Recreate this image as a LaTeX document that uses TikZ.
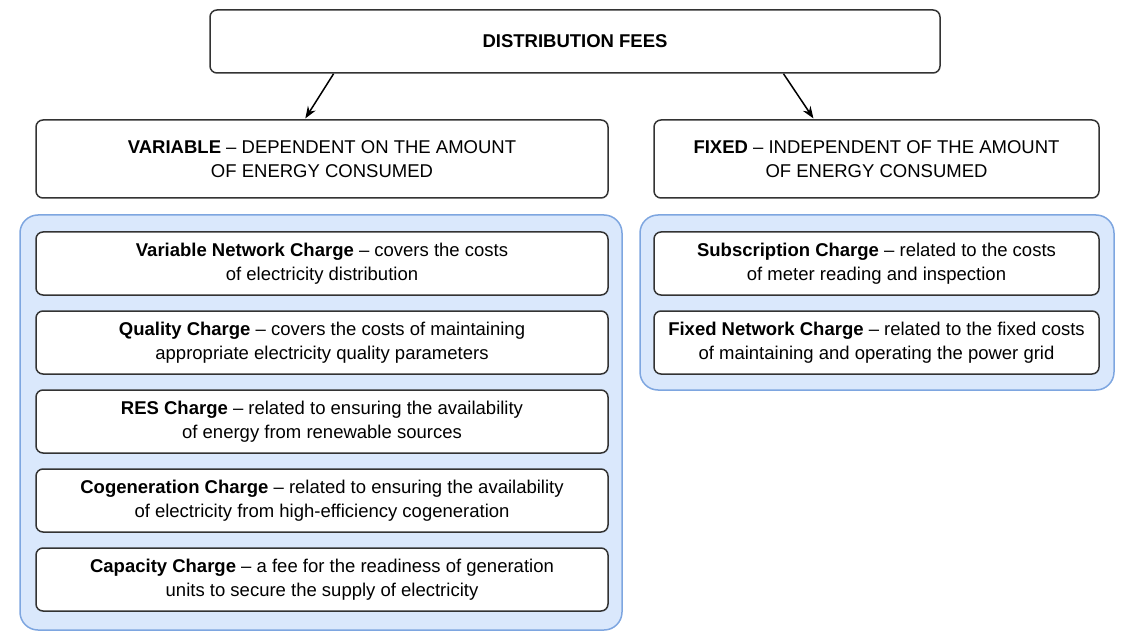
\documentclass[tikz,border=0pt]{standalone}
\usepackage{fontspec}
\setmainfont{Liberation Sans}
\usetikzlibrary{arrows.meta, calc}
\definecolor{grpfill}{HTML}{DAE8FC}
\definecolor{grpline}{HTML}{7EA6E0}
\tikzstyle{box} = [rectangle, rounded corners=7pt, draw=black!80, line width=1.5pt, fill=white, inner sep=0pt, text centered, align=center, font=\fontsize{18.5}{23.5}\selectfont]
\tikzstyle{group} = [rectangle, rounded corners=18pt, draw=grpline, line width=1.5pt, fill=grpfill, inner sep=0pt]
\tikzstyle{arrow} = [line width=1.5pt, -{Stealth[length=12pt, width=9pt]}, shorten >=1pt]

\begin{document}
\begin{tikzpicture}[x=1pt, y=-1pt]
	\useasboundingbox (0,0) rectangle (1131,644);
	\node (lgrp) [group, minimum width=602pt, minimum height=415pt] at (321,422.5) {};
	\node (rgrp) [group, minimum width=474pt, minimum height=175pt] at (877,302.5) {};
	\node (top) [box, minimum width=730pt, minimum height=63pt] at (575,41.5) {\textbf{DISTRIBUTION FEES}};
	\node (var) [box, minimum width=572pt, minimum height=78pt] at (322,159) {\textbf{VARIABLE} -- DEPENDENT ON THE AMOUNT\\OF ENERGY CONSUMED};
	\node (fix) [box, minimum width=445pt, minimum height=78pt] at (876.5,159) {\textbf{FIXED} -- INDEPENDENT OF THE AMOUNT\\OF ENERGY CONSUMED};
	\node (v1) [box, minimum width=572pt, minimum height=63pt] at (322,263.5) {\textbf{Variable Network Charge} -- covers the costs\\of electricity distribution};
	\node (v2) [box, minimum width=572pt, minimum height=63pt] at (322,342.5) {\textbf{Quality Charge} -- covers the costs of maintaining\\appropriate electricity quality parameters};
	\node (v3) [box, minimum width=572pt, minimum height=63pt] at (322,421.5) {\textbf{RES Charge} -- related to ensuring the availability\\of energy from renewable sources};
	\node (v4) [box, minimum width=572pt, minimum height=63pt] at (322,500.5) {\textbf{Cogeneration Charge} -- related to ensuring the availability\\of electricity from high-efficiency cogeneration};
	\node (v5) [box, minimum width=572pt, minimum height=63pt] at (322,579.5) {\textbf{Capacity Charge} -- a fee for the readiness of generation\\units to secure the supply of electricity};
	\node (f1) [box, minimum width=445pt, minimum height=63pt] at (876.5,263.5) {\textbf{Subscription Charge} -- related to the costs\\of meter reading and inspection};
	\node (f2) [box, minimum width=445pt, minimum height=63pt] at (876.5,342.5) {\textbf{Fixed Network Charge} -- related to the fixed costs\\of maintaining and operating the power grid};

	\draw [arrow] ($(top.south west)!0.17!(top.south east)$) -- ($(var.north west)!0.47!(var.north east)$);
	\draw [arrow] ($(top.south west)!0.785!(top.south east)$) -- ($(fix.north west)!0.36!(fix.north east)$);
\end{tikzpicture}
\end{document}
